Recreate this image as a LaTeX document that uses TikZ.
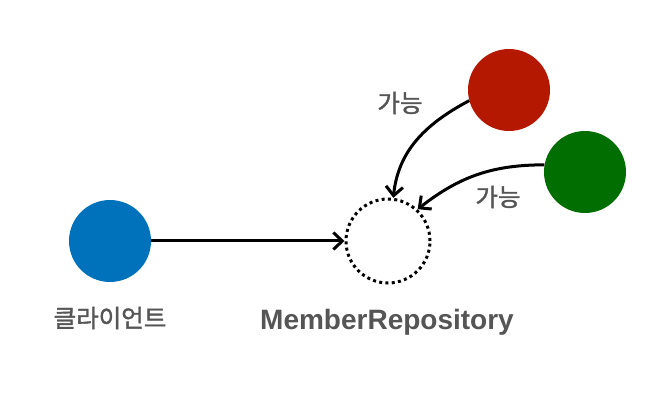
\documentclass[tikz,border=0pt]{standalone}
\usepackage{fontspec}
\setmainfont{Liberation Sans}
\newfontfamily\kr{Noto Sans CJK KR}
\usetikzlibrary{arrows.meta}

\definecolor{clientblue}{RGB}{0,114,188}
\definecolor{implred}{RGB}{180,24,0}
\definecolor{implgreen}{RGB}{0,110,0}
\definecolor{labelgray}{RGB}{85,85,85}

\tikzset{
  dot/.style={circle,inner sep=0pt,minimum size=82pt},
  lbl/.style={text=labelgray,inner sep=0pt,font=\kr\addfontfeature{FakeBold=1.5}\fontsize{24.5}{24.5}\selectfont},
  link/.style={line width=3pt,-{Straight Barb[length=9pt,width=17pt,line width=3pt]}}
}

\begin{document}
\begin{tikzpicture}[x=1pt,y=1pt]
\useasboundingbox (0,0) rectangle (656,402);

% participants
\node[dot,fill=clientblue] (client) at (110,161) {};
\node[dot,minimum size=84pt,draw,line width=3pt,dash pattern=on 3pt off 3.3pt] (repo) at (388,161) {};
\node[dot,fill=implred] (memimpl) at (509,312) {};
\node[dot,fill=implgreen] (dbimpl) at (585,230) {};

\node[lbl] (clientname) at (110,84) {클라이언트};
\node[lbl,font=\rmfamily\bfseries\fontsize{28}{28}\selectfont] (reponame) at (387,80) {MemberRepository};
\node[lbl] (ok1) at (400,299) {가능};
\node[lbl] (ok2) at (498,205) {가능};

% dependencies
\draw[link] (client) -- (repo);
\draw[link] (memimpl.195) to[out=208,in=84] (repo.83);
\draw[link] (dbimpl.170) to[out=180,in=38] (repo.47);
\end{tikzpicture}
\end{document}
